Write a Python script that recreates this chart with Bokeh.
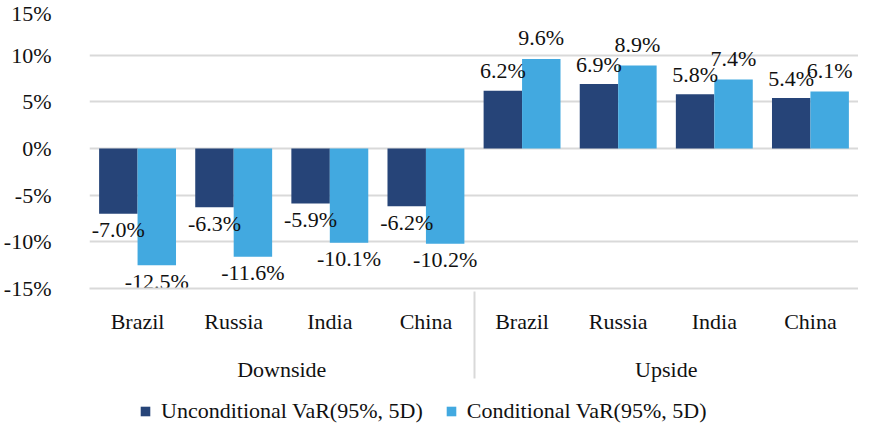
from bokeh.plotting import figure
from bokeh.layouts import column
from bokeh.models import (ColumnDataSource, FactorRange, Range1d, FixedTicker,
                          PrintfTickFormatter, Legend, LegendItem)
from bokeh.transform import dodge
from bokeh.core.properties import value
from bokeh.embed import file_html
from bokeh.resources import INLINE

# ---- data ----
groups = ["Downside", "Upside"]
countries = ["Brazil", "Russia", "India", "China"]
unconditional_down = [-7.0, -6.3, -5.9, -6.2]
conditional_down = [-12.5, -11.6, -10.1, -10.2]
unconditional_up = [6.2, 6.9, 5.8, 5.4]
conditional_up = [9.6, 8.9, 7.4, 6.1]
y_ticks = [-15, -10, -5, 0, 5, 10, 15]
series_names = ["Unconditional VaR(95%, 5D)", "Conditional VaR(95%, 5D)"]

DARK = "#264478"
LIGHT = "#42A9E0"
GRID = "#d9d9d9"
TXT = "#111111"
FONT = "Liberation Serif"
FS = "22px"

def make_src(group, u, c):
    return ColumnDataSource(dict(
        x=[(group, k) for k in countries],
        u=u, c=c,
        u_lbl=[f"{v:.1f}%" for v in u],
        c_lbl=[f"{v:.1f}%" for v in c],
    ))

src_down = make_src(groups[0], unconditional_down, conditional_down)
src_up = make_src(groups[1], unconditional_up, conditional_up)

factors = [(g, k) for g in groups for k in countries]

p = figure(width=858, height=398, output_backend="svg", toolbar_location=None,
           x_range=FactorRange(*factors, range_padding=0, group_padding=0, factor_padding=0),
           y_range=Range1d(y_ticks[0], y_ticks[-1]),
           min_border_left=87, min_border_right=0, min_border_top=8, min_border_bottom=110)
p.outline_line_color = None
p.background_fill_color = "white"
p.border_fill_color = "white"

for src in (src_down, src_up):
    p.vbar(x=dodge("x", -0.2, range=p.x_range), top="u", bottom=0, width=0.4,
           source=src, fill_color=DARK, line_color=None)
    p.vbar(x=dodge("x", 0.2, range=p.x_range), top="c", bottom=0, width=0.4,
           source=src, fill_color=LIGHT, line_color=None)

text_kw = dict(text_align="center", text_baseline="middle", text_font=value(FONT),
               text_font_size=FS, text_color=TXT)
p.text(x=dodge("x", -0.2, range=p.x_range), y="u", text="u_lbl", source=src_down, y_offset=16, **text_kw)
p.text(x=dodge("x", 0.2, range=p.x_range), y="c", text="c_lbl", source=src_down, y_offset=16, **text_kw)
p.text(x=dodge("x", -0.2, range=p.x_range), y="u", text="u_lbl", source=src_up, y_offset=-20, **text_kw)
p.text(x=dodge("x", 0.2, range=p.x_range), y="c", text="c_lbl", source=src_up, y_offset=-21, **text_kw)

# y axis
p.yaxis.ticker = FixedTicker(ticks=y_ticks)
p.yaxis.formatter = PrintfTickFormatter(format="%d%%")
p.yaxis.axis_line_color = None
p.yaxis.major_tick_line_color = None
p.yaxis.minor_tick_line_color = None
p.yaxis.major_tick_out = 0
p.yaxis.major_label_standoff = 38
p.yaxis.major_label_text_font = FONT
p.yaxis.major_label_text_font_size = FS
p.yaxis.major_label_text_color = TXT

p.ygrid.grid_line_color = GRID
p.ygrid.grid_line_width = 2
p.xgrid.grid_line_color = None

# x axis (nested categories, separator between groups)
p.xaxis.axis_line_color = GRID
p.xaxis.axis_line_width = 2
p.xaxis.major_tick_line_color = None
p.xaxis.minor_tick_line_color = None
p.xaxis.major_tick_out = 0
p.xaxis.major_label_standoff = 20
p.xaxis.major_label_text_font = FONT
p.xaxis.major_label_text_font_size = FS
p.xaxis.major_label_text_color = TXT
p.xaxis.group_text_font = FONT
p.xaxis.group_text_font_size = FS
p.xaxis.group_text_color = TXT
p.xaxis.group_text_font_style = "normal"
p.xaxis.separator_line_color = GRID
p.xaxis.separator_line_width = 2

# ---- legend strip ----
lg = figure(width=858, height=26, output_backend="svg", toolbar_location=None,
            x_range=FactorRange(*factors), y_range=Range1d(100, 101),
            min_border=0)
lg.axis.visible = False
lg.grid.visible = False
lg.outline_line_color = None
ru = lg.vbar(x="x", top="u", bottom=0, width=0.4, source=src_down, fill_color=DARK, line_color=None)
rc = lg.vbar(x="x", top="c", bottom=0, width=0.4, source=src_down, fill_color=LIGHT, line_color=None)
legend = Legend(items=[LegendItem(label=series_names[0], renderers=[ru]),
                       LegendItem(label=series_names[1], renderers=[rc])],
                orientation="horizontal", location=(50, 0),
                label_text_font=FONT, label_text_font_size=FS, label_text_color=TXT,
                glyph_width=12, glyph_height=12, label_standoff=10, spacing=22,
                padding=0, margin=0, border_line_color=None, background_fill_alpha=0)
lg.add_layout(legend, "center")

open("out.html", "w").write(file_html(column(p, lg, spacing=0), INLINE))
